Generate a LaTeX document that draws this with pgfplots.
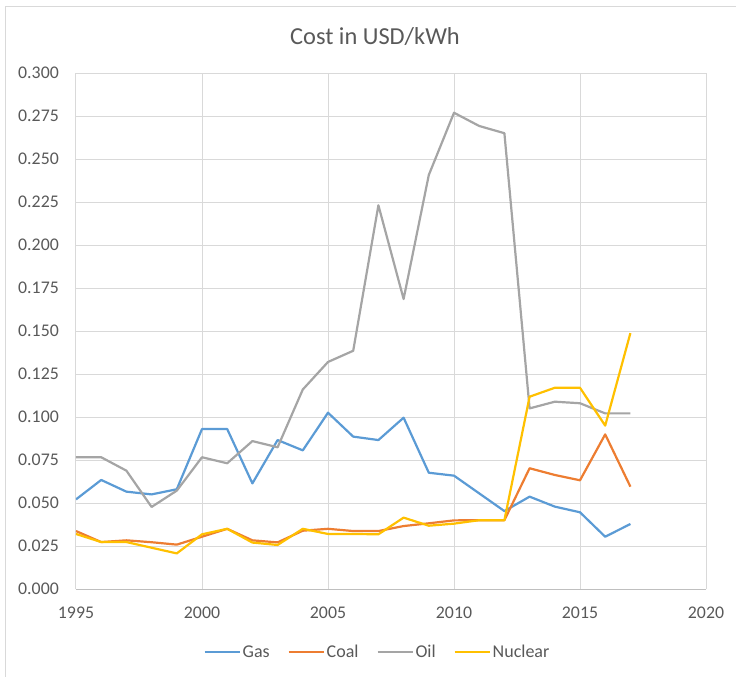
\documentclass[border=0pt]{standalone}
\usepackage{fontspec}
\setmainfont{Carlito}
\usepackage{pgfplots}
\pgfplotsset{compat=1.18}

\definecolor{gasc}{HTML}{5B9BD5}
\definecolor{coalc}{HTML}{ED7D31}
\definecolor{oilc}{HTML}{A5A5A5}
\definecolor{nucc}{HTML}{FFC000}
\definecolor{txt}{HTML}{595959}
\definecolor{gridc}{HTML}{D9D9D9}
\definecolor{axc}{HTML}{BFBFBF}

\begin{document}
\begin{tikzpicture}[x=1pt,y=1pt]
\useasboundingbox (0,0) rectangle (736,-677);
% chart frame (cut at right and bottom)
\draw[gridc,line width=1pt] (5.5,-677) -- (5.5,-6.5) -- (736,-6.5);
% title
\node[text=txt,font=\fontsize{24.4}{28}\selectfont] at (375,-37) {Cost in USD/kWh};

\begin{axis}[
at={(76pt,-589pt)},anchor=south west,
scale only axis,width=630pt,height=516pt,
xmin=1995,xmax=2020,ymin=0,ymax=0.3,
xtick={1995,2000,...,2020},
ytick={0,0.025,...,0.3},
grid=major,
grid style={gridc,line width=1pt},
axis x line*=bottom,axis y line*=left,
x axis line style={axc,line width=1pt,-},
y axis line style={draw=none},
major tick length=0pt,
tick label style={text=txt,font=\fontsize{17.8}{20}\selectfont,
  /pgf/number format/assume math mode=true},
xticklabel style={/pgf/number format/1000 sep={},inner sep=0pt,anchor=north,yshift=-18pt},
yticklabel style={/pgf/number format/fixed,/pgf/number format/fixed zerofill,
  /pgf/number format/precision=3,inner sep=0pt,anchor=east,xshift=-17pt},
scaled y ticks=false,
legend columns=4,
legend style={at={(0.4786,-0.122)},anchor=center,draw=none,fill=none,
  font=\fontsize{18}{20}\selectfont,text=txt,
  inner sep=0pt,
  nodes={inner sep=2pt},
  /tikz/every even column/.append style={column sep=16pt}},
legend image code/.code={\draw[#1,line width=2pt] (0pt,0pt) -- (35pt,0pt);},
every axis plot/.append style={line width=2.2pt,line join=round},
]
\addplot[gasc] coordinates {
(1995,0.0521) (1996,0.0634) (1997,0.0566) (1998,0.0550) (1999,0.0580)
(2000,0.0930) (2001,0.0930) (2002,0.0614) (2003,0.0866) (2004,0.0806)
(2005,0.1025) (2006,0.0886) (2007,0.0866) (2008,0.0996) (2009,0.0676)
(2010,0.0659) (2011,0.0556) (2012,0.0453) (2013,0.0537) (2014,0.0479)
(2015,0.0446) (2016,0.0304) (2017,0.0378)};
\addlegendentry{Gas}
\addplot[coalc] coordinates {
(1995,0.0337) (1996,0.0273) (1997,0.0283) (1998,0.0272) (1999,0.0258)
(2000,0.0304) (2001,0.0350) (2002,0.0283) (2003,0.0271) (2004,0.0339)
(2005,0.0350) (2006,0.0337) (2007,0.0337) (2008,0.0366) (2009,0.0382)
(2010,0.0399) (2011,0.0400) (2012,0.0400) (2013,0.0702) (2014,0.0663)
(2015,0.0632) (2016,0.0899) (2017,0.0595)};
\addlegendentry{Coal}
\addplot[oilc] coordinates {
(1995,0.0766) (1996,0.0766) (1997,0.0688) (1998,0.0477) (1999,0.0572)
(2000,0.0766) (2001,0.0731) (2002,0.0860) (2003,0.0824) (2004,0.1160)
(2005,0.1320) (2006,0.1385) (2007,0.2231) (2008,0.1686) (2009,0.2407)
(2010,0.2769) (2011,0.2692) (2012,0.2650) (2013,0.1050) (2014,0.1089)
(2015,0.1080) (2016,0.1021) (2017,0.1021)};
\addlegendentry{Oil}
\addplot[nucc] coordinates {
(1995,0.0320) (1996,0.0273) (1997,0.0273) (1998,0.0240) (1999,0.0207)
(2000,0.0318) (2001,0.0350) (2002,0.0270) (2003,0.0256) (2004,0.0350)
(2005,0.0320) (2006,0.0320) (2007,0.0318) (2008,0.0415) (2009,0.0368)
(2010,0.0380) (2011,0.0400) (2012,0.0400) (2013,0.1118) (2014,0.1170)
(2015,0.1170) (2016,0.0950) (2017,0.1488)};
\addlegendentry{Nuclear}
\end{axis}
\end{tikzpicture}
\end{document}
